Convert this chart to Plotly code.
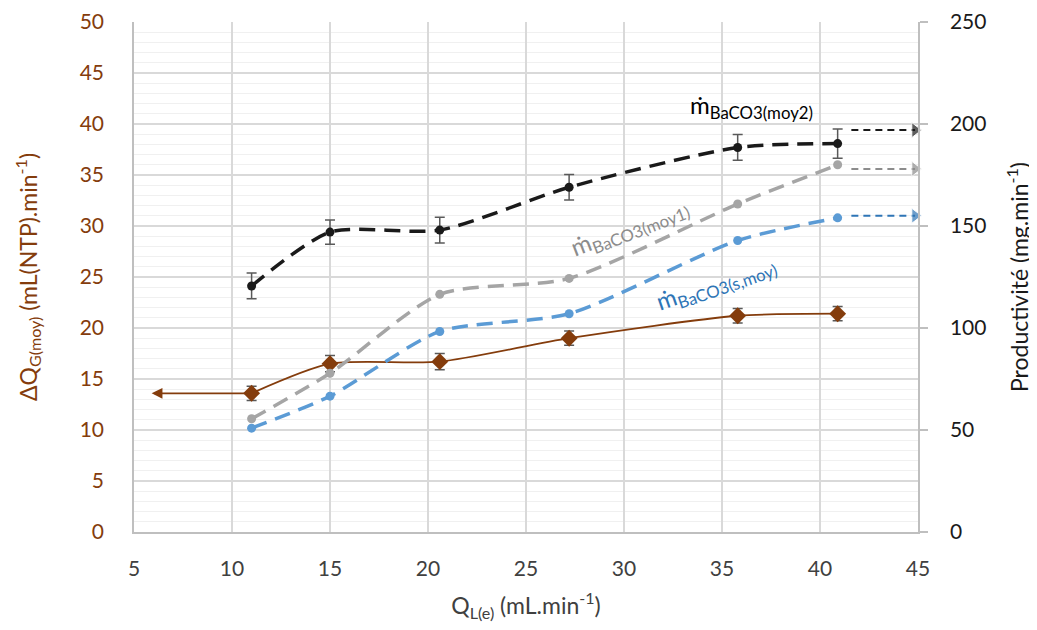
import plotly.graph_objects as go

# ---- data ----
q_liquid = [11.0, 15.0, 20.6, 27.2, 35.8, 40.9]
delta_qg = [13.6, 16.5, 16.7, 19.0, 21.2, 21.4]
delta_qg_err = [0.7, 0.8, 0.8, 0.7, 0.7, 0.7]
prod_moy2 = [120.6, 147.0, 148.0, 169.0, 188.5, 190.4]
prod_moy2_err = [6.3, 5.9, 6.3, 6.2, 6.3, 7.2]
prod_moy1 = [55.5, 77.8, 116.5, 124.3, 160.8, 180.0]
prod_smoy = [50.9, 66.6, 98.3, 107.0, 142.9, 154.0]

x_ticks = [5, 10, 15, 20, 25, 30, 35, 40, 45]
left_ticks = [0, 5, 10, 15, 20, 25, 30, 35, 40, 45, 50]
right_ticks = [0, 50, 100, 150, 200, 250]

# arrows pointing to the axes (data coordinates)
arrow_right_x = [41.6, 44.85]
arrow_moy2_y = 197
arrow_moy1_y = 178
arrow_smoy_y = 155
arrow_left_x = [11.0, 5.9]
arrow_left_y = 13.6

BROWN = "#843C0C"
BLACK = "#1A1A1A"
GRAY = "#A5A5A5"
BLUE = "#5B9BD5"
ERR = "#595959"
FONT = "Lato, Open Sans, sans-serif"
SMOOTH = 0.7
TICK = 21
TITLE = 23

fig = go.Figure()

fig.add_trace(go.Scatter(
    x=q_liquid, y=prod_smoy, yaxis="y2", mode="lines+markers",
    line=dict(color=BLUE, width=3.5, dash="16px,9px", shape="spline", smoothing=SMOOTH),
    marker=dict(color=BLUE, size=9), showlegend=False))
fig.add_trace(go.Scatter(
    x=q_liquid, y=prod_moy1, yaxis="y2", mode="lines+markers",
    line=dict(color=GRAY, width=3.5, dash="16px,9px", shape="spline", smoothing=SMOOTH),
    marker=dict(color=GRAY, size=9), showlegend=False))
fig.add_trace(go.Scatter(
    x=q_liquid, y=prod_moy2, yaxis="y2", mode="lines+markers",
    line=dict(color=BLACK, width=3.5, dash="16px,9px", shape="spline", smoothing=SMOOTH),
    marker=dict(color=BLACK, size=9),
    error_y=dict(type="data", array=prod_moy2_err, color=ERR, thickness=1.5, width=5),
    showlegend=False))
fig.add_trace(go.Scatter(
    x=q_liquid, y=delta_qg, yaxis="y", mode="lines+markers",
    line=dict(color=BROWN, width=1.8, shape="spline", smoothing=SMOOTH),
    marker=dict(color=BROWN, size=13, symbol="diamond"),
    error_y=dict(type="data", array=delta_qg_err, color=ERR, thickness=1.5, width=5),
    showlegend=False))

# dashed arrows to right axis
for yv, col in [(arrow_moy2_y, BLACK), (arrow_moy1_y, "#8C8C8C"), (arrow_smoy_y, "#2E75B6")]:
    fig.add_trace(go.Scatter(
        x=arrow_right_x, y=[yv, yv], yaxis="y2", mode="lines+markers",
        line=dict(color=col, width=2, dash="7px,5px"),
        marker=dict(color=col, size=[0, 13], symbol="triangle-right"),
        cliponaxis=False, showlegend=False, hoverinfo="skip"))

# left solid arrow
fig.add_annotation(x=arrow_left_x[1], y=arrow_left_y, ax=arrow_left_x[0], ay=arrow_left_y,
                   xref="x", yref="y", axref="x", ayref="y", showarrow=True,
                   arrowhead=2, arrowsize=1.2, arrowwidth=1.8, arrowcolor=BROWN, text="")

# labels
fig.add_annotation(x=36.5, y=208.5, xref="x", yref="y2", showarrow=False,
                   text="ṁ<sub>BaCO3(moy2)</sub>", font=dict(family=FONT, size=24, color="#000000"))
fig.add_annotation(x=30.3, y=149.4, xref="x", yref="y2", showarrow=False, textangle=-21,
                   text="ṁ<sub>BaCO3(moy1)</sub>", font=dict(family=FONT, size=24, color="#8C8C8C"))
fig.add_annotation(x=34.7, y=122, xref="x", yref="y2", showarrow=False, textangle=-19,
                   text="ṁ<sub>BaCO3(s,moy)</sub>", font=dict(family=FONT, size=24, color="#2E75B6"))

fig.update_layout(
    width=1029, height=614,
    margin=dict(l=126, r=119, t=14, b=90),
    paper_bgcolor="white", plot_bgcolor="white",
    font=dict(family=FONT, size=TICK, color="#404040"),
    xaxis=dict(range=[5, 45], tickvals=x_ticks, showgrid=True, gridcolor="#D9D9D9", gridwidth=1.5,
               showline=True, linecolor="#BFBFBF", linewidth=1.5, zeroline=False, automargin=False,
               ticks="", ticklabelstandoff=17, ticklabeloverflow="allow",
               tickfont=dict(size=TICK, color="#404040"),
               title=dict(text="Q<sub>L(e)</sub> (mL.min<sup>-1</sup>)", font=dict(size=TITLE, color="#404040"),
                          standoff=20)),
    yaxis=dict(range=[0, 50], tickvals=left_ticks, showgrid=True, gridcolor="#D9D9D9", gridwidth=1.5,
               minor=dict(dtick=1, showgrid=True, gridcolor="#F0F0F0", gridwidth=1),
               showline=True, linecolor="#BFBFBF", linewidth=1.5, zeroline=False, automargin=False,
               ticks="", ticklabelstandoff=24, ticklabeloverflow="allow",
               tickfont=dict(size=TICK, color=BROWN),
               title=dict(text="ΔQ<sub>G(moy)</sub> (mL(NTP).min<sup>-1</sup>)",
                          font=dict(size=TITLE, color=BROWN), standoff=36)),
    yaxis2=dict(range=[0, 250], tickvals=right_ticks, overlaying="y", side="right",
                showgrid=False, zeroline=False, showline=True, linecolor="#BFBFBF", linewidth=1.5,
                automargin=False, ticklabeloverflow="allow",
                ticks="outside", ticklen=8, tickcolor="#BFBFBF", tickwidth=1.5, ticklabelstandoff=18,
                tickfont=dict(size=TICK, color="#1A1A1A"),
                title=dict(text="Productivité (mg.min<sup>-1</sup>)", font=dict(size=TITLE, color="#1A1A1A"),
                           standoff=26)),
)

fig.write_html("out.html")
